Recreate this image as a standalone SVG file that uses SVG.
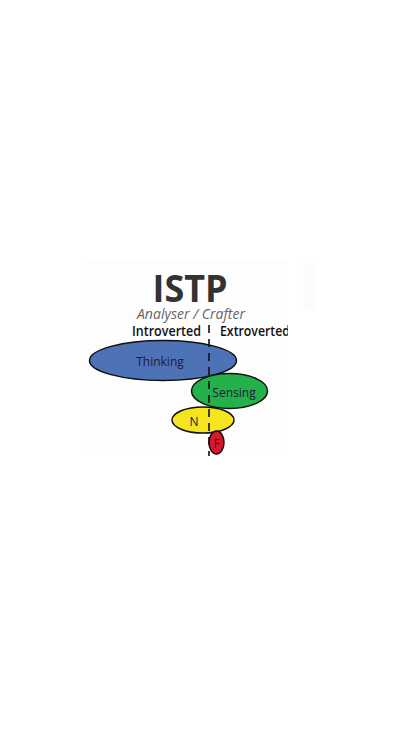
<svg xmlns="http://www.w3.org/2000/svg" width="400" height="730" viewBox="0 0 400 730">
<style>
text{font-family:"Open Sans","Liberation Sans",sans-serif}
.node{stroke:#111;stroke-width:1.5}
.lbl{font-size:12px;fill:#1a1a3a;text-anchor:middle;dominant-baseline:central}
</style>
<rect width="400" height="730" fill="#fff"/>
<rect x="81" y="261" width="207" height="195" fill="#fdfdfd"/>
<rect x="303" y="263" width="12" height="47" fill="#fcfcfc"/>
<text x="190" y="302" font-size="37" font-weight="bold" fill="#333" text-anchor="middle" textLength="75" lengthAdjust="spacingAndGlyphs">ISTP</text>
<text x="191" y="319" font-size="14" font-style="italic" fill="#666" text-anchor="middle" textLength="108" lengthAdjust="spacingAndGlyphs">Analyser / Crafter</text>
<text x="132" y="336" font-size="13.5" font-weight="600" fill="#111" textLength="69" lengthAdjust="spacingAndGlyphs">Introverted</text>
<text x="220" y="336" font-size="13.5" font-weight="600" fill="#111" textLength="70" lengthAdjust="spacingAndGlyphs">Extroverted</text>
<rect x="288" y="325" width="4" height="14" fill="#fff"/>
<g id="thinking"><ellipse class="node" cx="163" cy="360.5" rx="73.5" ry="20" fill="#4e72b6"/><text class="lbl" x="160" y="361">Thinking</text></g>
<g id="sensing"><ellipse class="node" cx="229.5" cy="391" rx="38" ry="17.5" fill="#24b04a"/><text class="lbl" x="234" y="392">Sensing</text></g>
<g id="n"><ellipse class="node" cx="203" cy="420" rx="31" ry="13" fill="#f4e51f"/><text class="lbl" x="194" y="421">N</text></g>
<g id="f"><ellipse class="node" cx="216.5" cy="442.5" rx="7.5" ry="11.5" fill="#d9172b"/><text class="lbl" x="216.5" y="443" font-size="11">F</text></g>
<g id="connectors"><line x1="209" y1="325" x2="209" y2="456" stroke="#111" stroke-width="1.6" stroke-dasharray="8,6"/></g>
</svg>
